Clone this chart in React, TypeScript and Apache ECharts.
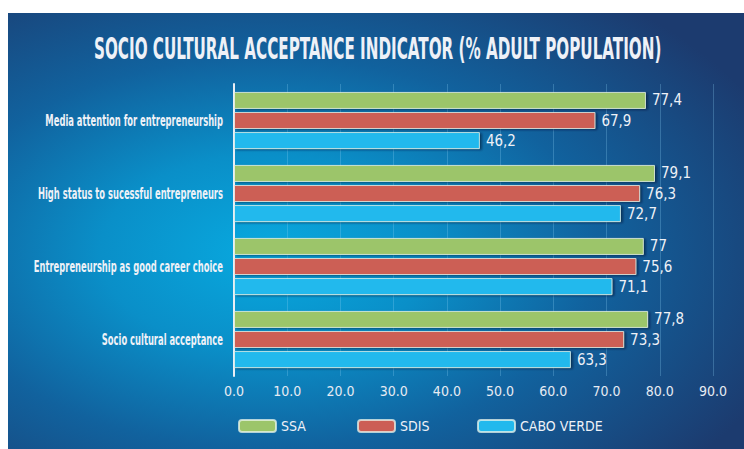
import React, { useEffect, useRef } from "react";
import * as echarts from "echarts";

const categories = [
  "Media attention for entrepreneurship",
  "High status to sucessful entrepreneurs",
  "Entrepreneurship as good career choice",
  "Socio cultural acceptance",
];
const seriesNames = ["SSA", "SDIS", "CABO VERDE"];
const ssaValues = [77.4, 79.1, 77, 77.8];
const sdisValues = [67.9, 76.3, 75.6, 73.3];
const caboVerdeValues = [46.2, 72.7, 71.1, 63.3];
const seriesColors = ["#9cc56a", "#cc5e55", "#22b9ed"];
const titleText = "SOCIO CULTURAL ACCEPTANCE INDICATOR (% ADULT POPULATION)";

const FONT = "'Liberation Sans Narrow', 'DejaVu Sans Condensed', 'Roboto Condensed', 'Noto Sans', sans-serif";
const TEXT_COLOR = "#eef1f7";

function measure(text: string, size: number, weight: string): number {
  const ctx = document.createElement("canvas").getContext("2d");
  if (!ctx) return text.length * size * 0.5;
  ctx.font = `${weight} ${size}px ${FONT}`;
  return ctx.measureText(text).width;
}

export default function App() {
  const ref = useRef<HTMLDivElement>(null);
  useEffect(() => {
    if (!ref.current) return;
    const chart = echarts.init(ref.current, null, { renderer: "svg" });
    const values = [ssaValues, sdisValues, caboVerdeValues];
    const legendLefts = [233, 352, 472];
    chart.setOption({
      animation: false,
      backgroundColor: "#ffffff",
      legend: seriesNames.map((n, i) => ({
        data: [n],
        left: legendLefts[i],
        top: 414,
        itemWidth: 37,
        itemHeight: 12,
        itemGap: 5,
        textStyle: { color: TEXT_COLOR, fontFamily: FONT, fontSize: 14 },
      })),
      grid: { left: 234, right: 31, top: 84, bottom: 73, containLabel: false },
      xAxis: {
        type: "value",
        min: 0,
        max: 90,
        interval: 10,
        axisLine: { show: false },
        axisTick: { show: false },
        axisLabel: {
          color: "#e6ebf3",
          fontFamily: FONT,
          fontSize: 14,
          margin: 8,
          formatter: (v: number) => v.toFixed(1),
        },
        splitLine: { lineStyle: { color: "rgba(140,210,245,0.28)", width: 1 } },
      },
      yAxis: {
        type: "category",
        inverse: true,
        data: categories,
        axisLine: { show: true, lineStyle: { color: "#e9eef5", width: 2 } },
        axisTick: { show: false },
        axisLabel: { show: false },
      },
      series: seriesNames.map((n, i) => ({
        name: n,
        type: "bar",
        data: values[i],
        barWidth: 17,
        barGap: "18%",
        itemStyle: {
          color: seriesColors[i],
          borderColor: "rgba(235,245,235,0.75)",
          borderWidth: 1,
          shadowColor: "rgba(0,20,50,0.6)",
          shadowBlur: 2,
          shadowOffsetX: 2,
          shadowOffsetY: 1,
        },
        label: {
          show: true,
          position: "right",
          distance: 6,
          color: TEXT_COLOR,
          fontFamily: FONT,
          fontSize: 15,
          formatter: (p: any) => String(p.value).replace(".", ","),
        },
      })),
    });

    const titleSize = 30;
    const titleScale = 568 / measure(titleText, titleSize, "bold");
    const catSize = 16;
    const catScale = 178 / measure(categories[0], catSize, "bold");

    const catLabels = categories.map((c, i) => {
      const y = chart.convertToPixel({ yAxisIndex: 0 }, c) as number;
      return {
        type: "text",
        id: "cat" + i,
        x: 223,
        y: y,
        scaleX: catScale,
        silent: true,
        style: {
          text: c,
          x: 0,
          y: 0,
          fill: TEXT_COLOR,
          font: `bold ${catSize}px ${FONT}`,
          textAlign: "right",
          textVerticalAlign: "middle",
        },
      };
    });

    chart.setOption({
      graphic: [
        {
          type: "rect",
          id: "bg",
          z: -10,
          silent: true,
          shape: { x: 8, y: 13, width: 736, height: 436 },
          style: {
            fill: new echarts.graphic.RadialGradient(0.35, 0.55, 0.75, [
              { offset: 0, color: "#08a9df" },
              { offset: 0.3, color: "#0a8fc8" },
              { offset: 0.6, color: "#11629e" },
              { offset: 1, color: "#1c3b6f" },
            ]),
          },
        },
        {
          type: "text",
          id: "title",
          x: 94,
          y: 49,
          scaleX: titleScale,
          silent: true,
          style: {
            text: titleText,
            x: 0,
            y: 0,
            fill: TEXT_COLOR,
            font: `bold ${titleSize}px ${FONT}`,
            textAlign: "left",
            textVerticalAlign: "middle",
          },
        },
        ...catLabels,
      ],
    });
    return () => chart.dispose();
  }, []);
  return (
    <div
      ref={ref}
      style={{ position: "fixed", left: 0, top: 0, width: 744, height: 449 }}
    />
  );
}
